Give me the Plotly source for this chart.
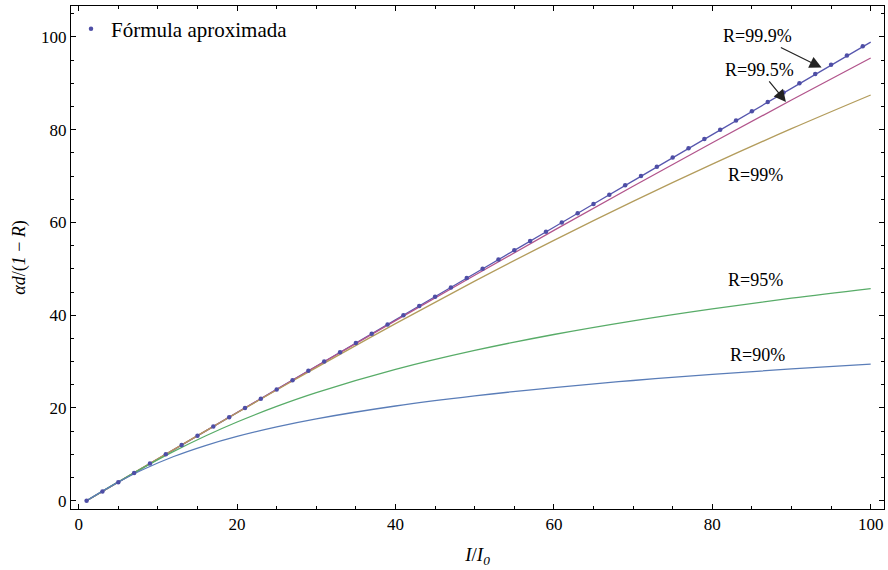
import plotly.graph_objects as go

# ---- data ----
x90 = [1, 3, 5, 8, 12, 16, 20, 25, 30, 40, 50, 60, 70, 80, 90, 100]
y90 = [0, 2.06, 4.01, 6.62, 9.53, 11.90, 13.87, 15.92, 17.65, 20.42, 22.60, 24.40, 25.92, 27.25, 28.42, 29.47]

x95 = [1, 3, 5, 8, 12, 16, 20, 25, 30, 40, 50, 60, 70, 80, 90, 100]
y95 = [0, 2.04, 4.05, 6.97, 10.62, 13.95, 16.97, 20.33, 23.30, 28.31, 32.40, 35.84, 38.79, 41.37, 43.67, 45.73]

x99 = [1, 3, 5, 8, 12, 16, 20, 25, 30, 40, 50, 60, 70, 80, 90, 100]
y99 = [0, 2.01, 4.02, 7.03, 11.03, 15.01, 18.96, 23.86, 28.71, 38.19, 47.34, 56.14, 64.55, 72.58, 80.22, 87.49]

x995 = [1, 5, 10, 20, 30, 40, 50, 60, 70, 80, 90, 100]
y995 = [0, 4.01, 9.02, 19.01, 28.96, 38.83, 48.61, 58.28, 67.81, 77.19, 86.41, 95.46]

x999 = [1, 10, 20, 30, 40, 50, 60, 70, 80, 90, 100]
y999 = [0, 9.0, 19.0, 29.0, 39.0, 49.0, 58.97, 68.96, 78.94, 88.91, 98.88]

approx_x = [1, 3, 5, 7, 9, 11, 13, 15, 17, 19, 21, 23, 25, 27, 29, 31, 33, 35, 37, 39,
            41, 43, 45, 47, 49, 51, 53, 55, 57, 59, 61, 63, 65, 67, 69, 71, 73, 75, 77, 79,
            81, 83, 85, 87, 89, 91, 93, 95, 97, 99]
approx_y = [0, 2, 4, 6, 8, 10, 12, 14, 16, 18, 20, 22, 24, 26, 28, 30, 32, 34, 36, 38,
            40, 42, 44, 46, 48, 50, 52, 54, 56, 58, 60, 62, 64, 66, 68, 70, 72, 74, 76, 78,
            80, 82, 84, 86, 88, 90, 92, 94, 96, 98]

curve_labels = ["R=99.9%", "R=99.5%", "R=99%", "R=95%", "R=90%"]
tick_vals = [0, 20, 40, 60, 80, 100]

SERIF = "Liberation Serif, Times New Roman, serif"

fig = go.Figure()
curves = [
    (x999, y999, "#5757AE", curve_labels[0]),
    (x995, y995, "#B2558C", curve_labels[1]),
    (x99, y99, "#B39C5C", curve_labels[2]),
    (x95, y95, "#58AC68", curve_labels[3]),
    (x90, y90, "#5A7DB8", curve_labels[4]),
]
for xs, ys, col, name in curves:
    fig.add_trace(go.Scatter(x=xs, y=ys, mode="lines", name=name, showlegend=False,
                             line=dict(color=col, width=1.3, shape="spline", smoothing=1.0)))

fig.add_trace(go.Scatter(x=approx_x, y=approx_y, mode="markers", name="Fórmula aproximada",
                         marker=dict(color="#4E4EA6", size=4.5), showlegend=True))

# plain text labels
label_pos = {
    "R=99%": (85.4, 70.2),
    "R=95%": (85.5, 47.6),
    "R=90%": (85.7, 31.5),
}
for name, (lx, ly) in label_pos.items():
    fig.add_annotation(x=lx, y=ly, text=name, showarrow=False,
                       font=dict(family=SERIF, size=18, color="black"))

# labels with arrows: (text centre) -> (arrow tip on the curve)
arrow_labels = [("R=99.9%", (85.7, 100.2), (93.8, 93.4)),
                ("R=99.5%", (86.0, 92.9), (89.3, 86.0))]
for name, (sx, sy), (tx, ty) in arrow_labels:
    fig.add_annotation(x=tx, y=ty, ax=sx, ay=sy, xref="x", yref="y", axref="x", ayref="y",
                       text=name, showarrow=True, arrowhead=2, arrowsize=2.0, arrowwidth=1.2,
                       arrowcolor="#222222", standoff=0, startstandoff=0,
                       font=dict(family=SERIF, size=18, color="black"))

axis_common = dict(
    showline=True, linecolor="black", linewidth=1, mirror="ticks",
    ticks="inside", ticklen=5, tickwidth=1, tickcolor="black",
    showgrid=False, zeroline=False,
    tickvals=tick_vals,
    tickfont=dict(family=SERIF, size=17, color="black"),
    minor=dict(dtick=5, ticklen=3, ticks="inside", tickcolor="black", tickwidth=1, showgrid=False),
)

fig.update_layout(
    width=888, height=570,
    margin=dict(l=71, r=4, t=6, b=61),
    paper_bgcolor="white", plot_bgcolor="white",
    xaxis=dict(range=[-0.97, 101.68],
               title=dict(text="<i>I</i>/<i>I</i><sub><i>0</i></sub>",
                          font=dict(family=SERIF, size=19, color="black"), standoff=14),
               **axis_common),
    yaxis=dict(range=[-1.79, 106.68],
               title=dict(text="<i>αd</i>/(<i>1</i> − <i>R</i>)",
                          font=dict(family=SERIF, size=18, color="black"), standoff=10),
               **axis_common),
    legend=dict(x=0.0, y=0.995, xanchor="left", yanchor="top",
                bgcolor="rgba(0,0,0,0)", font=dict(family=SERIF, size=21, color="black"),
                itemsizing="trace"),
    font=dict(family=SERIF),
)

fig.write_html("out.html", config={"displayModeBar": False},
               post_script="document.body.style.margin='0';")
